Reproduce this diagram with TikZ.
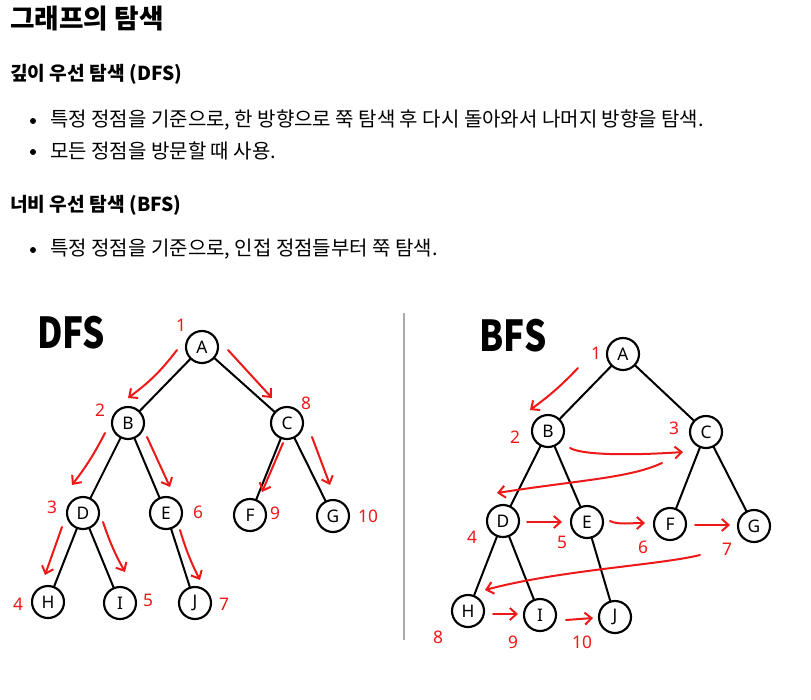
\documentclass[tikz,border=0pt]{standalone}
\usepackage{fontspec}
\setmainfont{Noto Sans CJK KR}
\newfontfamily\hand{Noto Sans}
\usetikzlibrary{arrows.meta}
\definecolor{hred}{RGB}{238,24,24}
\definecolor{sepgray}{RGB}{170,170,170}
\begin{document}
\begin{tikzpicture}[x=0.75pt,y=-0.75pt,
  vtx/.style={circle,draw,line width=1.6pt,minimum size=24pt,inner sep=0pt,outer sep=0pt,font=\hand\fontsize{13}{13}\selectfont},
  edge/.style={line width=1.5pt},
  rarrow/.style={hred,line width=1.5pt,line cap=round,-{Straight Barb[length=5pt,width=9pt,line width=1.5pt]}},
  num/.style={text=hred,inner sep=0pt,font=\hand\fontsize{13}{13}\selectfont},
  txt/.style={anchor=west,inner sep=0pt,font=\fontsize{15}{17}\selectfont},
  head/.style={anchor=west,inner sep=0pt,font=\bfseries\fontsize{14.4}{16}\selectfont},
  big/.style={inner sep=0pt,font=\bfseries\fontsize{32}{32}\selectfont,xscale=0.82},
  bul/.style={circle,fill=black,inner sep=0pt,minimum size=4.5pt}]
\useasboundingbox[fill=white] (0,0) rectangle (811,700);
% ---- text ----
\node[anchor=west,inner sep=0pt,font=\bfseries\fontsize{20}{22}\selectfont] (title) at (10,19) {그래프의 탐색};
\node[head] (h1) at (10,74) {깊이 우선 탐색 (DFS)};
\node[bul] (b1) at (33,121) {};
\node[txt] (t1) at (50,120) {특정 정점을 기준으로, 한 방향으로 쭉 탐색 후 다시 돌아와서 나머지 방향을 탐색.};
\node[bul] (b2) at (33,152) {};
\node[txt] (t2) at (50,151) {모든 정점을 방문할 때 사용.};
\node[head] (h2) at (10,205) {너비 우선 탐색 (BFS)};
\node[bul] (b3) at (33,250) {};
\node[txt] (t3) at (50,249) {특정 정점을 기준으로, 인접 정점들부터 쭉 탐색.};
% ---- separator ----
\coordinate (s1) at (404,313);
\coordinate (s2) at (404,640);
\draw[sepgray,line width=1.5pt] (s1) -- (s2);
% ---- DFS ----
\node[big] (dfs) at (71,333) {DFS};
\node[vtx] (dA) at (202,347) {A};
\node[vtx] (dB) at (128,423) {B};
\node[vtx] (dC) at (287,423) {C};
\node[vtx] (dD) at (83,513) {D};
\node[vtx] (dE) at (166,513) {E};
\node[vtx] (dF) at (250,515) {F};
\node[vtx] (dG) at (333,516) {G};
\node[vtx] (dH) at (48,602) {H};
\node[vtx] (dI) at (120,603) {I};
\node[vtx] (dJ) at (195,603) {J};
\draw[edge] (dA) -- (dB); \draw[edge] (dA) -- (dC);
\draw[edge] (dB) -- (dD); \draw[edge] (dB) -- (dE);
\draw[edge] (dC) -- (dF); \draw[edge] (dC) -- (dG);
\draw[edge] (dD) -- (dH); \draw[edge] (dD) -- (dI);
\draw[edge] (dE) -- (dJ);
\node[num] (dn1) at (181,325) {1};
\node[num] (dn2) at (100,410) {2};
\node[num] (dn8) at (306,403) {8};
\node[num] (dn3) at (52,507) {3};
\node[num] (dn6) at (198,512) {6};
\node[num] (dn9) at (275,513) {9};
\node[num] (dn10) at (368,516) {10};
\node[num] (dn4) at (18,604) {4};
\node[num] (dn5) at (148,600) {5};
\node[num] (dn7) at (224,604) {7};
\coordinate (dab1) at (177,350); \coordinate (dab2) at (128,398);
\coordinate (dac1) at (228,350); \coordinate (dac2) at (272,398);
\coordinate (dbd1) at (105,433); \coordinate (dbd2) at (72,485);
\coordinate (dbe1) at (147,437); \coordinate (dbe2) at (170,487);
\coordinate (dcf1) at (283,443); \coordinate (dcf2) at (262,492);
\coordinate (dcg1) at (312,437); \coordinate (dcg2) at (330,485);
\coordinate (ddh1) at (62,527); \coordinate (ddh2) at (45,575);
\coordinate (ddi1) at (103,522); \coordinate (ddi2) at (125,572);
\coordinate (dej1) at (180,530); \coordinate (dej2) at (200,580);
\draw[rarrow] (dab1) to[bend left=8] (dab2);
\draw[rarrow] (dac1) to (dac2);
\draw[rarrow] (dbd1) to[bend left=5] (dbd2);
\draw[rarrow] (dbe1) to (dbe2);
\draw[rarrow] (dcf1) to (dcf2);
\draw[rarrow] (dcg1) to (dcg2);
\draw[rarrow] (ddh1) to (ddh2);
\draw[rarrow] (ddi1) to[bend right=5] (ddi2);
\draw[rarrow] (dej1) to[bend right=5] (dej2);
% ---- BFS ----
\node[big] (bfs) at (513,336) {BFS};
\node[vtx] (bA) at (623,354) {A};
\node[vtx] (bB) at (548,431) {B};
\node[vtx] (bC) at (706,432) {C};
\node[vtx] (bD) at (503,521) {D};
\node[vtx] (bE) at (587,522) {E};
\node[vtx] (bF) at (670,524) {F};
\node[vtx] (bG) at (754,526) {G};
\node[vtx] (bH) at (468,611) {H};
\node[vtx] (bI) at (540,615) {I};
\node[vtx] (bJ) at (615,617) {J};
\draw[edge] (bA) -- (bB); \draw[edge] (bA) -- (bC);
\draw[edge] (bB) -- (bD); \draw[edge] (bB) -- (bE);
\draw[edge] (bC) -- (bF); \draw[edge] (bC) -- (bG);
\draw[edge] (bD) -- (bH); \draw[edge] (bD) -- (bI);
\draw[edge] (bE) -- (bJ);
\node[num] (bn1) at (596,353) {1};
\node[num] (bn2) at (515,437) {2};
\node[num] (bn3) at (674,428) {3};
\node[num] (bn4) at (472,537) {4};
\node[num] (bn5) at (562,542) {5};
\node[num] (bn6) at (643,547) {6};
\node[num] (bn7) at (727,549) {7};
\node[num] (bn8) at (438,637) {8};
\node[num] (bn9) at (513,642) {9};
\node[num] (bn10) at (582,642) {10};
\coordinate (bab1) at (578,368); \coordinate (bab2) at (530,410);
\coordinate (bbc1) at (570,448); \coordinate (bbc2) at (683,452);
\coordinate (bcd1) at (662,463); \coordinate (bcd2) at (497,493);
\coordinate (bde1) at (527,522); \coordinate (bde2) at (562,522);
\coordinate (bef1) at (610,521); \coordinate (bef2) at (645,523);
\coordinate (bfg1) at (695,525); \coordinate (bfg2) at (730,525);
\coordinate (bgh1) at (700,555); \coordinate (bgh2) at (485,590);
\coordinate (bhi1) at (493,614); \coordinate (bhi2) at (518,614);
\coordinate (bij1) at (566,620); \coordinate (bij2) at (593,618);
\draw[rarrow] (bab1) to[bend left=5] (bab2);
\draw[rarrow] (bbc1) .. controls (584,456) and (640,455) .. (bbc2);
\draw[rarrow] (bcd1) .. controls (630,478) and (580,480) .. (bcd2);
\draw[rarrow] (bde1) -- (bde2);
\draw[rarrow] (bef1) .. controls (618,525) and (630,523) .. (bef2);
\draw[rarrow] (bfg1) -- (bfg2);
\draw[rarrow] (bgh1) .. controls (660,565) and (560,570) .. (bgh2);
\draw[rarrow] (bhi1) -- (bhi2);
\draw[rarrow] (bij1) -- (bij2);
\end{tikzpicture}
\end{document}
